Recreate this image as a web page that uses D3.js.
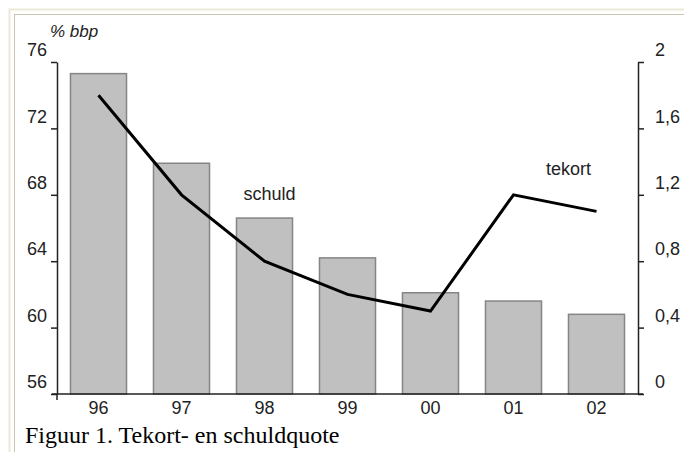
<!DOCTYPE html>
<html>
<head>
<meta charset="utf-8">
<script src="https://cdn.jsdelivr.net/npm/d3@7"></script>
<style>
  html, body { margin: 0; padding: 0; background: #fff; }
  svg { display: block; }
  .axis text { font-family: "Liberation Sans", Arial, sans-serif; font-size: 18px; fill: #222; }
  .axis path, .axis line { stroke: #222; stroke-width: 1.5; }
</style>
</head>
<body>
<div id="chart"></div>
<script>
const years = ['96', '97', '98', '99', '00', '01', '02'];
const schuld = [75.3, 69.9, 66.6, 64.2, 62.1, 61.6, 60.8];   // % bbp, left axis (bars)
const tekort = [1.8, 1.2, 0.8, 0.6, 0.5, 1.2, 1.1];          // right axis (line)
const leftTicks = [56, 60, 64, 68, 72, 76];
const rightTicks = [0, 0.4, 0.8, 1.2, 1.6, 2];

const W = 684, H = 452;
const margin = { top: 62, right: 46, bottom: 58, left: 57 };

const svg = d3.select('#chart').append('svg')
  .attr('width', W)
  .attr('height', H);

// frame round the figure (only top and left edges fall inside the window)
svg.append('rect')
  .attr('x', 9.5).attr('y', 9.5)
  .attr('width', W + 20).attr('height', H + 20)
  .attr('fill', 'none')
  .attr('stroke', '#ece9d8')
  .attr('stroke-width', 2);
svg.append('rect')
  .attr('x', 14.5).attr('y', 14.5)
  .attr('width', W + 20).attr('height', H + 20)
  .attr('fill', 'none')
  .attr('stroke', '#c9c5b4')
  .attr('stroke-width', 1);

const x = d3.scaleBand()
  .domain(years)
  .range([margin.left, W - margin.right])
  .paddingInner(0.325)
  .paddingOuter(0.1625);

const yL = d3.scaleLinear().domain([56, 76]).range([H - margin.bottom, margin.top]);
const yR = d3.scaleLinear().domain([0, 2]).range([H - margin.bottom, margin.top]);

// bars
svg.append('g')
  .selectAll('rect')
  .data(years)
  .enter().append('rect')
  .attr('x', d => x(d))
  .attr('y', (d, i) => yL(schuld[i]))
  .attr('width', x.bandwidth())
  .attr('height', (d, i) => yL(56) - yL(schuld[i]))
  .attr('fill', '#c0c0c0')
  .attr('stroke', '#858585')
  .attr('stroke-width', 1.5);

// line
const line = d3.line()
  .x((d, i) => x(years[i]) + x.bandwidth() / 2)
  .y(d => yR(d));

svg.append('path')
  .datum(tekort)
  .attr('d', line)
  .attr('fill', 'none')
  .attr('stroke', '#000')
  .attr('stroke-width', 3);

// left axis
const leftAxis = svg.append('g')
  .attr('class', 'axis')
  .attr('transform', `translate(${margin.left},0)`)
  .call(d3.axisLeft(yL).tickValues(leftTicks).tickSize(6).tickSizeOuter(0));
leftAxis.selectAll('text').attr('x', -10).attr('y', -12);

// right axis
const rightAxis = svg.append('g')
  .attr('class', 'axis')
  .attr('transform', `translate(${W - margin.right},0)`)
  .call(d3.axisRight(yR).tickValues(rightTicks).tickSize(6).tickSizeOuter(0)
    .tickFormat(d => d3.format('.1~f')(d).replace('.', ',')));
rightAxis.selectAll('text').attr('x', 17).attr('y', -12);

// bottom axis
const bottomAxis = svg.append('g')
  .attr('class', 'axis')
  .attr('transform', `translate(0,${H - margin.bottom})`)
  .call(d3.axisBottom(x).tickSize(0).tickPadding(7));
bottomAxis.select('.domain').remove();
bottomAxis.append('line')
  .attr('x1', x.range()[0] - 5).attr('x2', x.range()[1] + 5)
  .attr('stroke', '#222').attr('stroke-width', 1.5);
bottomAxis.append('line')
  .attr('x1', x.range()[0]).attr('x2', x.range()[0])
  .attr('y1', 0).attr('y2', 6)
  .attr('stroke', '#222').attr('stroke-width', 1.5);

// labels
svg.append('text')
  .attr('x', margin.left - 7)
  .attr('y', 37)
  .attr('font-family', '"Liberation Sans", Arial, sans-serif')
  .attr('font-size', '17px')
  .attr('font-style', 'italic')
  .attr('fill', '#222')
  .text('% bbp');

svg.append('text')
  .attr('x', x('98') + x.bandwidth() / 2 + 5)
  .attr('y', yL(67.7))
  .attr('text-anchor', 'middle')
  .attr('font-family', '"Liberation Sans", Arial, sans-serif')
  .attr('font-size', '18px')
  .attr('fill', '#222')
  .text('schuld');

svg.append('text')
  .attr('x', x('02'))
  .attr('y', yR(1.32))
  .attr('text-anchor', 'middle')
  .attr('font-family', '"Liberation Sans", Arial, sans-serif')
  .attr('font-size', '18px')
  .attr('fill', '#222')
  .text('tekort');

svg.append('text')
  .attr('x', 25)
  .attr('y', 443)
  .attr('font-family', '"Liberation Serif", "Times New Roman", serif')
  .attr('font-size', '24px')
  .attr('fill', '#000')
  .text('Figuur 1. Tekort- en schuldquote');
</script>
</body>
</html>
